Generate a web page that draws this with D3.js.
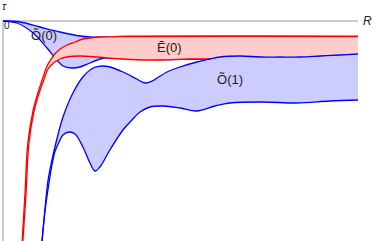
<!DOCTYPE html>
<html>
<head>
<meta charset="utf-8">
<script src="https://cdn.jsdelivr.net/npm/d3@7"></script>
<style>
  body { margin: 0; background: #fff; }
  text { font-family: "Liberation Sans", Arial, sans-serif; fill: #222; }
</style>
</head>
<body>
<svg id="chart"></svg>
<script>
// curves as [R, tau] pairs
const o0Upper = [[0,0],[0.48,-0.01],[1.04,-0.06],[1.61,-0.11],[2.17,-0.15],[2.45,-0.16],[2.73,-0.16],[3.30,-0.155],[5.55,-0.152],[10,-0.153]];
const o0Lower = [[0,0],[0.39,-0.02],[0.85,-0.12],[1.24,-0.27],[1.52,-0.39],[1.69,-0.45],[1.94,-0.47],[2.17,-0.46],[2.45,-0.42],[2.73,-0.38],[3.01,-0.365],[3.58,-0.375],[4.42,-0.385],[5.55,-0.38],[10,-0.38]];

const e0Upper = [[0.54,-2.2],[0.62,-1.72],[0.70,-1.22],[0.85,-0.89],[0.99,-0.71],[1.13,-0.56],[1.24,-0.45],[1.32,-0.40],[1.46,-0.33],[1.61,-0.28],[1.80,-0.24],[2.03,-0.21],[2.25,-0.18],[2.73,-0.16],[3.58,-0.155],[10,-0.155]];
const e0Lower = [[0.56,-2.2],[0.65,-1.72],[0.73,-1.22],[0.87,-0.91],[1.01,-0.73],[1.13,-0.61],[1.27,-0.48],[1.46,-0.41],[1.61,-0.38],[1.80,-0.36],[2.17,-0.35],[2.65,-0.36],[3.10,-0.375],[3.58,-0.385],[4.34,-0.39],[5.27,-0.38],[6.96,-0.38],[10,-0.38]];

const o1Upper = [[1.10,-2.2],[1.18,-1.89],[1.27,-1.59],[1.38,-1.39],[1.49,-1.22],[1.69,-0.96],[1.97,-0.72],[2.25,-0.56],[2.54,-0.47],[2.79,-0.45],[3.01,-0.46],[3.38,-0.51],[3.77,-0.58],[4.00,-0.62],[4.20,-0.60],[4.34,-0.57],[4.62,-0.51],[4.90,-0.47],[5.46,-0.41],[5.83,-0.38],[6.11,-0.36],[6.68,-0.35],[7.24,-0.36],[7.80,-0.36],[8.37,-0.36],[8.93,-0.35],[9.49,-0.34],[10,-0.33]];
const o1Lower = [[1.10,-2.2],[1.18,-1.91],[1.30,-1.61],[1.38,-1.44],[1.46,-1.31],[1.58,-1.21],[1.69,-1.14],[1.86,-1.11],[2.03,-1.13],[2.25,-1.26],[2.45,-1.42],[2.59,-1.50],[2.73,-1.46],[3.01,-1.29],[3.38,-1.09],[3.58,-1.01],[3.86,-0.91],[4.14,-0.86],[4.51,-0.85],[4.99,-0.87],[5.46,-0.90],[5.97,-0.85],[6.39,-0.82],[7.32,-0.81],[8.28,-0.82],[9.21,-0.80],[10,-0.79]];

const bands = [
  { name: 'Õ(0)', upper: o0Upper, lower: o0Lower, color: '#0000ff', fill: '#ccccff', label: [0.79, -0.19] },
  { name: 'Ẽ(0)', upper: e0Upper, lower: e0Lower, color: '#ff0000', fill: '#ffcccc', label: [4.34, -0.31] },
  { name: 'Õ(1)', upper: o1Upper, lower: o1Lower, color: '#0000ff', fill: '#ccccff', label: [6.03, -0.63] }
];

const width = 374, height = 241;

const svg = d3.select('#chart')
  .attr('width', width)
  .attr('height', height);

const xScale = d3.scaleLinear().domain([0, 10]).range([3, 358]);
const yScale = d3.scaleLinear().domain([0, -2.2]).range([21, 241]);

const line = d3.line()
  .x(d => xScale(d[0]))
  .y(d => yScale(d[1]))
  .curve(d3.curveCatmullRom.alpha(0.5));

svg.append('clipPath').attr('id', 'plot-clip')
  .append('rect').attr('x', 0).attr('y', 0).attr('width', width).attr('height', height);

// axes
svg.append('line')
  .attr('x1', xScale(0)).attr('x2', xScale(10))
  .attr('y1', yScale(0)).attr('y2', yScale(0))
  .attr('stroke', '#999').attr('stroke-width', 1);
svg.append('line')
  .attr('x1', xScale(0)).attr('x2', xScale(0))
  .attr('y1', yScale(0)).attr('y2', yScale(-2.2))
  .attr('stroke', '#999').attr('stroke-width', 1);

svg.append('text').attr('x', 363).attr('y', 25)
  .style('font-size', '12px').style('font-style', 'italic').text('R');
svg.append('text').attr('x', 2).attr('y', 10)
  .style('font-size', '11px').style('font-style', 'italic').text('τ');
svg.append('text').attr('x', 4).attr('y', 29)
  .style('font-size', '10px').text('0');

const plot = svg.append('g').attr('clip-path', 'url(#plot-clip)');

bands.forEach(b => {
  let top = line(b.upper);
  let bottom = line(b.lower.slice().reverse()).replace(/^M/, 'L');
  plot.append('path')
    .attr('d', top + bottom + 'Z')
    .attr('fill', b.fill)
    .attr('stroke', 'none');
  [b.upper, b.lower].forEach(c => {
    plot.append('path')
      .attr('d', line(c))
      .attr('fill', 'none')
      .attr('stroke', b.color)
      .attr('stroke-width', 1.3);
  });
  svg.append('text')
    .attr('x', xScale(b.label[0]))
    .attr('y', yScale(b.label[1]))
    .style('font-size', '13px')
    .text(b.name);
});
</script>
</body>
</html>
